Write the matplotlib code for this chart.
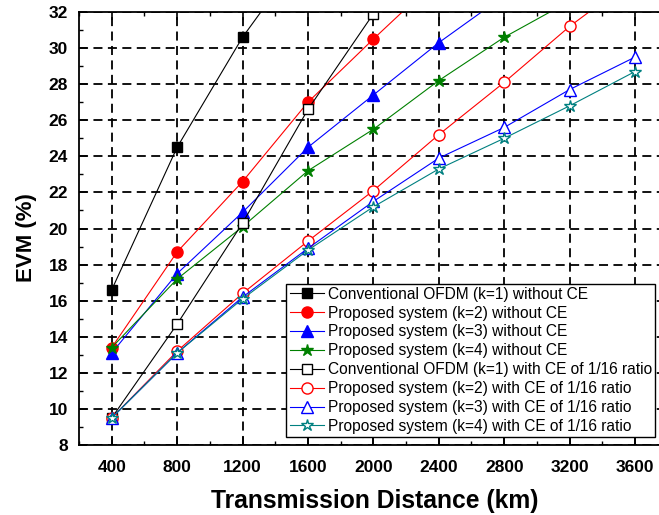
import matplotlib
matplotlib.use('Agg')
import matplotlib.pyplot as plt
import matplotlib.ticker as mticker

plt.rcParams['font.family'] = ['Liberation Sans', 'DejaVu Sans']

# transmission distance (km)
dist = [400, 800, 1200, 1600, 2000, 2400, 2800, 3200, 3600]

# EVM (%); points above 32 are clipped by the axes
k1_no_ce = [16.6, 24.5, 30.6, 35.6]
k2_no_ce = [13.4, 18.7, 22.6, 27.0, 30.5, 33.9]
k3_no_ce = [13.1, 17.5, 20.9, 24.5, 27.4, 30.3, 32.9]
k4_no_ce = [13.4, 17.2, 20.1, 23.2, 25.5, 28.2, 30.6, 32.6]
k1_ce = [9.5, 14.7, 20.3, 26.6, 31.9]
k2_ce = [9.5, 13.2, 16.4, 19.3, 22.1, 25.2, 28.1, 31.2, 33.9]
k3_ce = [9.5, 13.1, 16.2, 18.9, 21.5, 23.9, 25.6, 27.7, 29.5]
k4_ce = [9.5, 13.1, 16.1, 18.8, 21.2, 23.3, 25.0, 26.8, 28.7]

labels = [
    'Conventional OFDM (k=1) without CE',
    'Proposed system (k=2) without CE',
    'Proposed system (k=3) without CE',
    'Proposed system (k=4) without CE',
    'Conventional OFDM (k=1) with CE of 1/16 ratio',
    'Proposed system (k=2) with CE of 1/16 ratio',
    'Proposed system (k=3) with CE of 1/16 ratio',
    'Proposed system (k=4) with CE of 1/16 ratio',
]

series = [k1_no_ce, k2_no_ce, k3_no_ce, k4_no_ce, k1_ce, k2_ce, k3_ce, k4_ce]
colors = ['black', 'red', 'blue', 'green', 'black', 'red', 'blue', '#008080']
markers = ['s', 'o', '^', '*', 's', 'o', '^', '*']
msizes = [7, 8, 8, 9, 7, 8, 8, 9]
filled = [True, True, True, True, False, False, False, False]

fig = plt.figure(figsize=(6.59, 5.15), dpi=100)
# right spine falls just outside the picture, as in the original crop
ax = fig.add_axes([79 / 659, 70 / 515, 592 / 659, 433 / 515])

for ys, c, m, ms, f, lab in zip(series, colors, markers, msizes, filled, labels):
    ax.plot(dist[:len(ys)], ys, color=c, lw=0.8, marker=m, markersize=ms,
            markerfacecolor=c if f else 'white', markeredgecolor=c,
            markeredgewidth=1.0, label=lab)

ax.set_xlim(200, 3820)
ax.set_ylim(8, 32)
ax.xaxis.set_major_locator(mticker.MultipleLocator(400))
ax.xaxis.set_minor_locator(mticker.MultipleLocator(200))
ax.yaxis.set_major_locator(mticker.MultipleLocator(2))
ax.yaxis.set_minor_locator(mticker.MultipleLocator(1))
ax.set_xticks(dist)

ax.grid(True, which='major', color='black', linestyle=(0, (5, 3)), linewidth=1.3)
ax.tick_params(which='both', direction='in', top=True, right=True)
ax.tick_params(which='major', length=6, width=1.2, labelsize=12.5)
ax.tick_params(axis='x', which='major', pad=11)
ax.tick_params(axis='y', which='major', pad=8)
ax.tick_params(which='minor', length=3, width=1.0)
for t in ax.get_xticklabels() + ax.get_yticklabels():
    t.set_fontweight('bold')
for s in ax.spines.values():
    s.set_linewidth(1.3)

ax.set_xlabel('Transmission Distance (km)', fontsize=17.7, fontweight='bold', labelpad=10)
ax.set_ylabel('EVM (%)', fontsize=16, fontweight='bold')
ax.yaxis.set_label_coords(-0.071, 0.48)

leg = ax.legend(loc='lower right', bbox_to_anchor=(655 / 659, 78 / 515),
                bbox_transform=fig.transFigure, fontsize=11.2, fancybox=False,
                framealpha=1, edgecolor='black', borderpad=0.2, labelspacing=0.25,
                handlelength=2.2, handletextpad=0.25, borderaxespad=0.0)
leg.get_frame().set_linewidth(1.0)

fig.savefig('out.png', dpi=100)
